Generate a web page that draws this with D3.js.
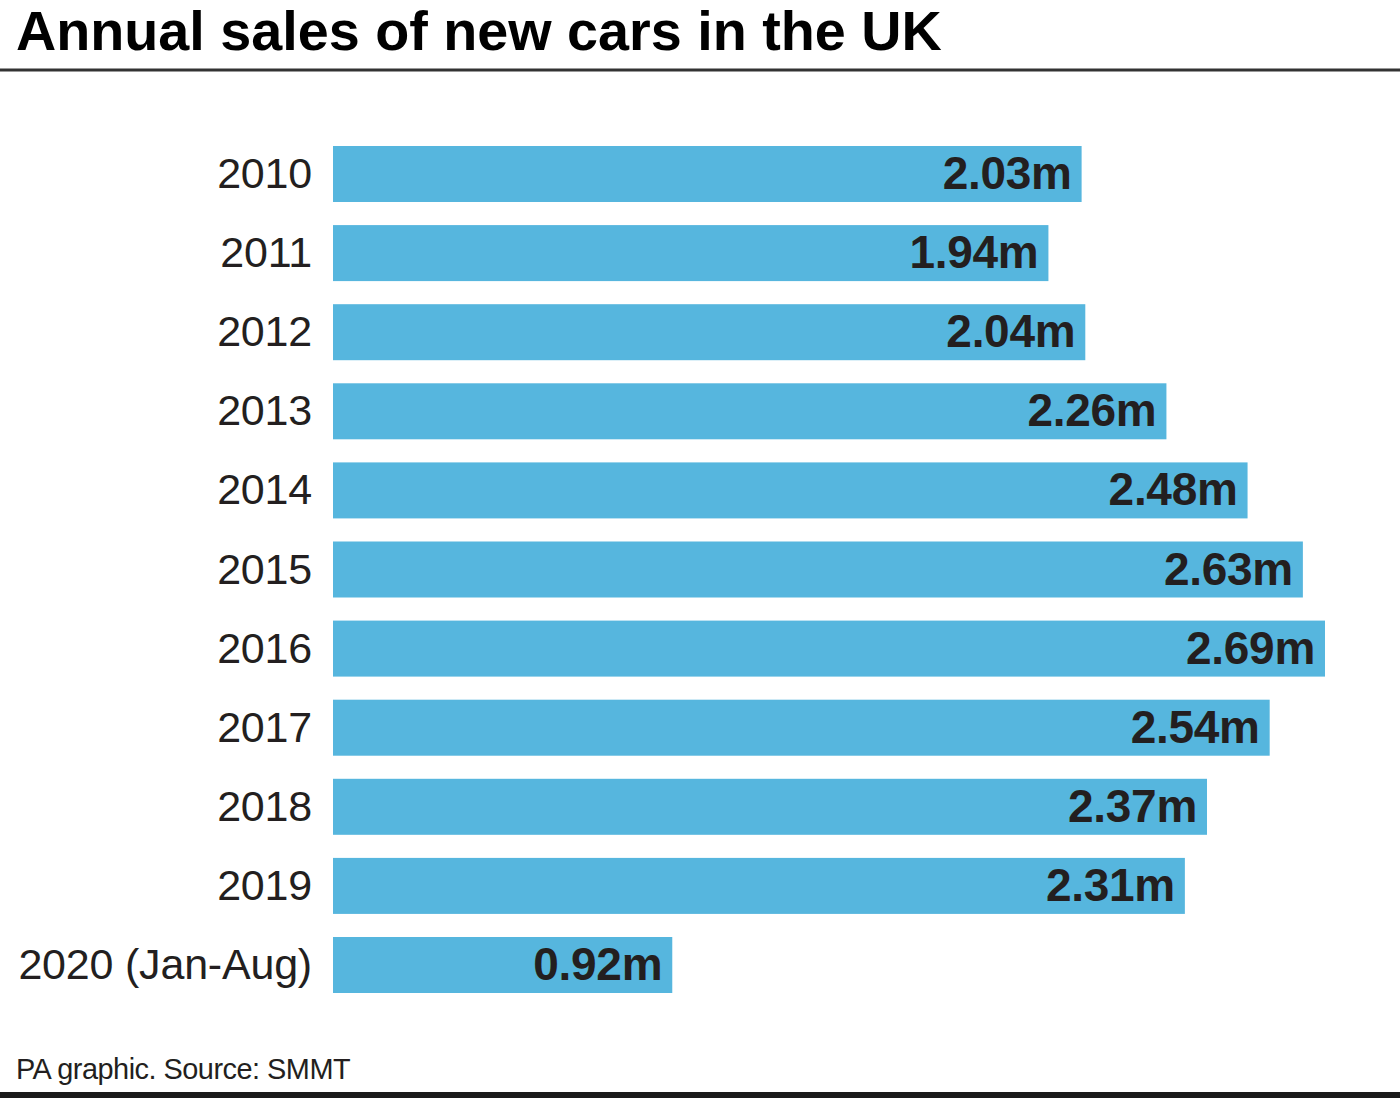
<!DOCTYPE html>
<html><head><meta charset="utf-8">
<script src="https://cdn.jsdelivr.net/npm/d3@7"></script>
<style>html,body{margin:0;padding:0;background:#fff;}svg{display:block;}</style>
</head><body>
<script>
const categories = ["2010","2011","2012","2013","2014","2015","2016","2017","2018","2019","2020 (Jan-Aug)"];
const values = [2.03,1.94,2.04,2.26,2.48,2.63,2.69,2.54,2.37,2.31,0.92];
const valueLabels = ["2.03m","1.94m","2.04m","2.26m","2.48m","2.63m","2.69m","2.54m","2.37m","2.31m","0.92m"];
const titleText = "Annual sales of new cars in the UK";
const sourceText = "PA graphic. Source: SMMT";

const W = 1400, H = 1098;
const svg = d3.select("body").append("svg").attr("width", W).attr("height", H);
const font = "'Liberation Sans', Arial, Helvetica, sans-serif";

function fitText(sel, targetW) {
  const w = sel.node().getComputedTextLength();
  const fs = parseFloat(sel.attr("font-size"));
  sel.attr("font-size", fs * targetW / w);
}

const title = svg.append("text").attr("x", 16).attr("y", 50)
  .attr("font-family", font).attr("font-weight", "bold").attr("font-size", 56)
  .attr("fill", "#000").text(titleText);
fitText(title, 926);

svg.append("rect").attr("x", 0).attr("y", 68.5).attr("width", W).attr("height", 3).attr("fill", "#333");

const x = d3.scaleLinear().domain([0, 2.69]).range([333, 1325]);
const y = d3.scaleBand().domain(categories).range([134.45, 1004.55]).paddingInner(0.292).paddingOuter(0.146);

svg.append("g").selectAll("rect").data(values).join("rect")
  .attr("x", x(0)).attr("y", (d, i) => y(categories[i]))
  .attr("width", d => x(d) - x(0)).attr("height", y.bandwidth())
  .attr("fill", "#56b6de");

svg.append("g").selectAll("text").data(categories).join("text")
  .attr("x", 312).attr("y", d => y(d) + y.bandwidth() / 2 + 14)
  .attr("text-anchor", "end").attr("font-family", font).attr("font-size", 43)
  .attr("letter-spacing", -0.2)
  .attr("fill", "#231f20").text(d => d);

svg.append("g").selectAll("text").data(values).join("text")
  .attr("x", d => x(d) - 10).attr("y", (d, i) => y(categories[i]) + y.bandwidth() / 2 + 15)
  .attr("text-anchor", "end").attr("font-family", font).attr("font-weight", "bold")
  .attr("font-size", 46).attr("letter-spacing", -0.3)
  .attr("fill", "#231f20").text((d, i) => valueLabels[i]);

const src = svg.append("text").attr("x", 16).attr("y", 1079)
  .attr("font-family", font).attr("font-size", 28).attr("fill", "#231f20")
  .attr("letter-spacing", -0.5).text(sourceText);
fitText(src, 334);

svg.append("rect").attr("x", 0).attr("y", 1092).attr("width", W).attr("height", 6).attr("fill", "#1a1a1a");
</script>
</body></html>
